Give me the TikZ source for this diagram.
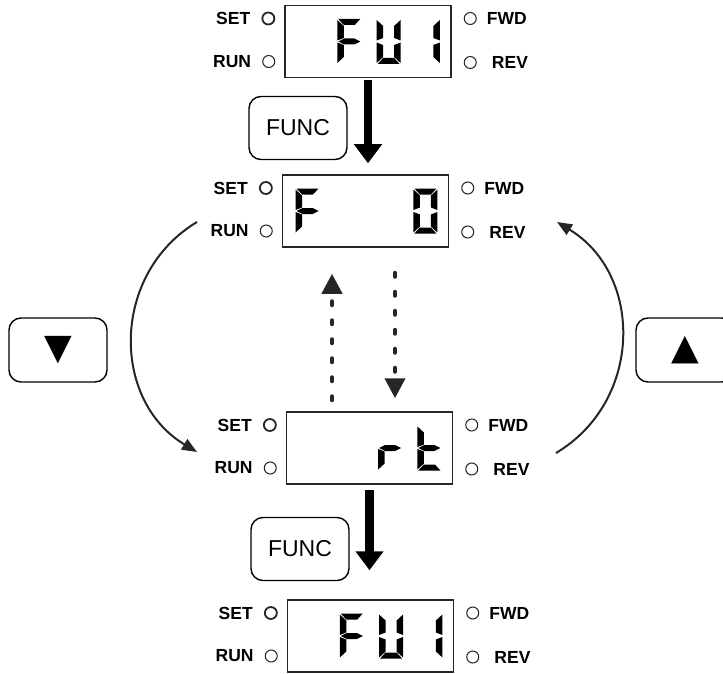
\documentclass[tikz,border=0pt]{standalone}
\usepackage{fontspec}
\setmainfont{Liberation Sans}
\newfontfamily\symfont{DejaVu Sans}
\usetikzlibrary{arrows.meta, positioning}

% seven segment pieces, digit box 24 x 45, y runs downwards
\def\sega{(1,0) -- (23,0) -- (17.5,6) -- (6.5,6) -- cycle}
\def\segb{(24,1) -- (24,21.5) -- (17.5,19) -- (17.5,7) -- cycle}
\def\segc{(24,23.5) -- (24,44) -- (17.5,38) -- (17.5,26) -- cycle}
\def\segd{(1,45) -- (6.5,39) -- (17.5,39) -- (23,45) -- cycle}
\def\sege{(0,23.5) -- (6.5,26) -- (6.5,38) -- (0,44) -- cycle}
\def\segf{(0,1) -- (6.5,7) -- (6.5,19) -- (0,21.5) -- cycle}
\def\segg{(1,22.5) -- (7,19.5) -- (17,19.5) -- (23,22.5) -- (17,25.5) -- (7,25.5) -- cycle}
\newcommand\lcddigit[3]{%
  \foreach \s in {#3}{\fill[shift={(#1.center)}, shift={(-70+39.3*#2,-22.5)}] \csname seg\s\endcsname;}}

\begin{document}
\begin{tikzpicture}[x=1pt, y=-1pt]
    \tikzstyle{lcd}=[draw=black!85, line width=1.5pt, minimum width=166pt, minimum height=72pt, inner sep=0pt]
    \tikzstyle{lamp}=[circle, draw=black!85, line width=1pt, minimum size=12pt, inner sep=0pt]
    \tikzstyle{tag}=[inner sep=0pt, font=\fontsize{17.5}{17.5}\selectfont\bfseries]
    \tikzstyle{key}=[draw, line width=1.4pt, rounded corners=12pt, minimum width=98pt, minimum height=63pt
    , font=\fontsize{23}{23}\selectfont]
    \tikzstyle{press}=[line width=8.5pt, -{Triangle[width=27pt, length=19pt]}]
    \tikzstyle{dots}=[black!85, line width=4pt, line cap=round, dash pattern=on 4pt off 15pt
    , -{Triangle[width=20pt, length=20pt]}]
    \tikzstyle{turn}=[black!85, line width=2pt, -{Triangle[width=12pt, length=15pt]}]
    \useasboundingbox (0,0) rectangle (723,674);

    % the four panels
    \foreach \n/\px/\py in {1/368/41.5, 2/365.5/211, 3/369.5/448, 4/370.5/636}{
        \node[lcd] (lcd\n) at (\px,\py) {};
        \node[lamp, line width=1.8pt, left=9pt of lcd\n.west, yshift=23pt] (set\n) {};
        \node[lamp, left=9pt of lcd\n.west, yshift=-20pt] (run\n) {};
        \node[lamp, right=12pt of lcd\n.east, yshift=23pt] (fwd\n) {};
        \node[lamp, right=12pt of lcd\n.east, yshift=-21pt] (rev\n) {};
        \node[tag, left=11pt of set\n] (setlbl\n) {SET};
        \node[tag, left=11pt of run\n] (runlbl\n) {RUN};
        \node[tag, right=10pt of fwd\n] (fwdlbl\n) {FWD};
        \node[tag, right=15pt of rev\n] (revlbl\n) {REV};
    }

    % display contents
    \lcddigit{lcd1}{1}{a,f,g,e}
    \lcddigit{lcd1}{2}{b,c,d,e,f}
    \lcddigit{lcd1}{3}{b,c}
    \lcddigit{lcd2}{0}{a,f,g,e}
    \lcddigit{lcd2}{3}{a,b,c,d,e,f}
    \lcddigit{lcd3}{2}{e,g}
    \lcddigit{lcd3}{3}{f,e,g,d}
    \lcddigit{lcd4}{1}{a,f,g,e}
    \lcddigit{lcd4}{2}{b,c,d,e,f}
    \lcddigit{lcd4}{3}{b,c}

    % keys
    \node[key] (func1) at (298,128) {FUNC};
    \node[key] (func2) at (300,549) {FUNC};
    \node[key, minimum height=64pt, font=\fontsize{36}{36}\symfont] (dnkey) at (58,350) {▼};
    \node[key, minimum height=64pt, font=\fontsize{36}{36}\symfont] (upkey) at (685,350) {▲};

    % arrows
    \draw[press, shorten <=2pt, shorten >=11pt] (lcd1.south) -- (lcd1.south |- lcd2.north);
    \draw[press, shorten <=5pt, shorten >=29pt] (lcd3.south) -- (lcd3.south |- lcd4.north);

    \coordinate (upfrom) at ([xshift=-37.5pt, yshift=11pt]lcd3.north);
    \coordinate (dnfrom) at ([xshift=29.5pt, yshift=-25pt]lcd2.south);
    \draw[dots, shorten >=26pt] (upfrom) -- (upfrom |- lcd2.south);
    \draw[dots, shorten >=13pt] (dnfrom) -- (dnfrom |- lcd3.north);

    \coordinate (lefttop) at (197,222);
    \coordinate (leftbot) at (197,452);
    \coordinate (rightbot) at (556,453);
    \coordinate (righttop) at (557,222);
    \draw[turn] (lefttop) to[bend right=59, looseness=1.12] (leftbot);
    \draw[turn] (rightbot) to[bend right=59, looseness=1.12] (righttop);

\end{tikzpicture}
\end{document}
